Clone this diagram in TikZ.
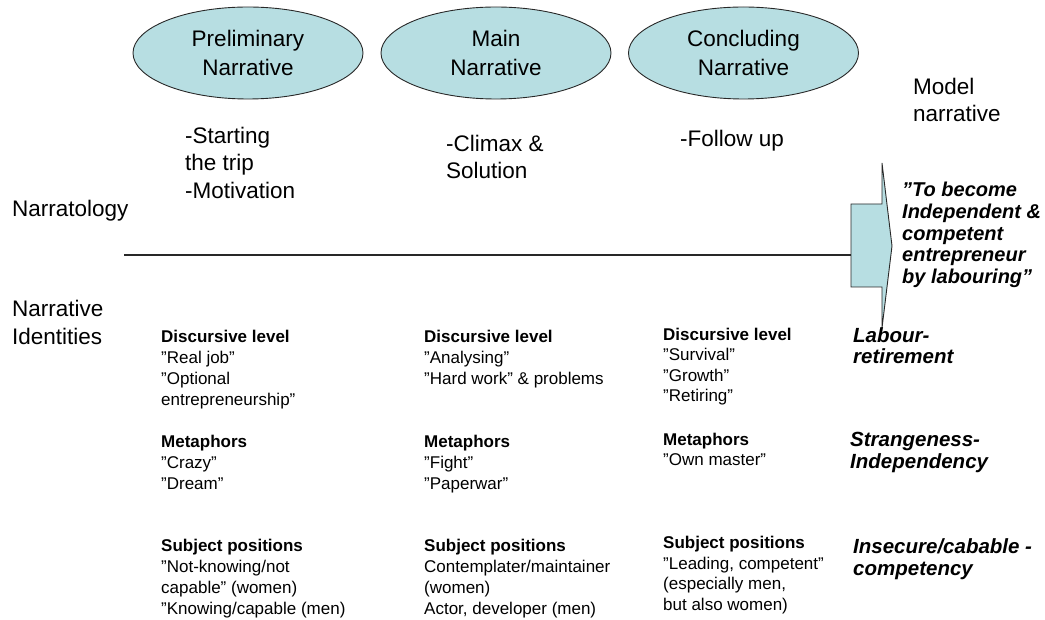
\documentclass[tikz,border=0pt]{standalone}
\usepackage{fontspec}
\setmainfont{Liberation Sans}
\usetikzlibrary{shapes.geometric}
\definecolor{ellfill}{RGB}{183,222,226}
\definecolor{edge}{RGB}{40,40,40}
\begin{document}
\begin{tikzpicture}[x=1pt,y=-1pt,
  big/.style={font=\fontsize{22.5}{27.5}\selectfont, align=left, inner sep=0pt, anchor=base west},
  small/.style={font=\fontsize{17}{21}\selectfont, align=left, inner sep=0pt, anchor=base west},
  smallc/.style={font=\fontsize{17}{20.5}\selectfont, align=left, inner sep=0pt, anchor=base west},
  lab/.style={font=\fontsize{20.5}{21.4}\selectfont\bfseries\itshape, align=left, inner sep=0pt, anchor=base west},
  goalstyle/.style={font=\fontsize{20}{21.7}\selectfont\bfseries\itshape, align=left, inner sep=0pt, anchor=base west},
  ell/.style={ellipse, draw=edge, line width=0.9pt, fill=ellfill, minimum width=230pt, minimum height=92pt, inner sep=0pt, align=center, font=\fontsize{22.5}{28.3}\selectfont},
  axis/.style={draw=edge, line width=1.3pt},
  blockarrow/.style={draw=edge, line width=0.9pt, fill=ellfill}]
\useasboundingbox (0,0) rectangle (1045,620);
% ellipses
\node[ell] (pre) at (248,53) {Preliminary\\Narrative};
\node[ell] (main) at (496,53) {Main\\Narrative};
\node[ell] (conc) at (743.5,53) {Concluding\\Narrative};
% texts under ellipses (anchor = baseline of last line)
\node[big] (t1) at (185,198.3) {-Starting\\the trip\\-Motivation};
\node[big] (t2) at (446,178.7) {-Climax \&\\Solution};
\node[big] (t3) at (680,146.7) {-Follow up};
\node[big] (model) at (913,122) {Model\\narrative};
% left labels
\node[big] (narr) at (12,216.7) {Narratology};
\node[big] (ident) at (12,344.5) {Narrative\\Identities};
% block arrow
\coordinate (lineStart) at (124,255);
\coordinate (shaftL) at (851,255);
\draw[blockarrow] (851,204) -- (882,204) -- (882,163) -- (892,246) -- (882,328) -- (882,287) -- (851,287) -- cycle;
\draw[axis] (lineStart) -- (shaftL);
\node[goalstyle] (goal) at (902,283.5) {”To become\\Independent \&\\competent\\entrepreneur\\by labouring”};
% column 1
\node[small] (c1a) at (161,405.5) {\textbf{Discursive level}\\”Real job”\\”Optional\\entrepreneurship”};
\node[small] (c1b) at (161,489.5) {\textbf{Metaphors}\\”Crazy”\\”Dream”};
\node[small] (c1c) at (161,614.5) {\textbf{Subject positions}\\”Not-knowing/not\\capable” (women)\\”Knowing/capable (men)};
% column 2
\node[small] (c2a) at (424,384.5) {\textbf{Discursive level}\\”Analysing”\\”Hard work” \& problems};
\node[small] (c2b) at (424,489.5) {\textbf{Metaphors}\\”Fight”\\”Paperwar”};
\node[small] (c2c) at (424,614.5) {\textbf{Subject positions}\\Contemplater/maintainer\\(women)\\Actor, developer (men)};
% column 3
\node[smallc] (c3a) at (663,402) {\textbf{Discursive level}\\”Survival”\\”Growth”\\”Retiring”};
\node[smallc] (c3b) at (663,465.5) {\textbf{Metaphors}\\”Own master”};
\node[smallc] (c3c) at (663,610) {\textbf{Subject positions}\\”Leading, competent”\\(especially men,\\but also women)};
% right labels
\node[lab] (r1) at (853,364) {Labour-\\retirement};
\node[lab] (r2) at (850,468) {Strangeness-\\Independency};
\node[lab] (r3) at (853,575) {Insecure/cabable -\\competency};
\end{tikzpicture}
\end{document}
